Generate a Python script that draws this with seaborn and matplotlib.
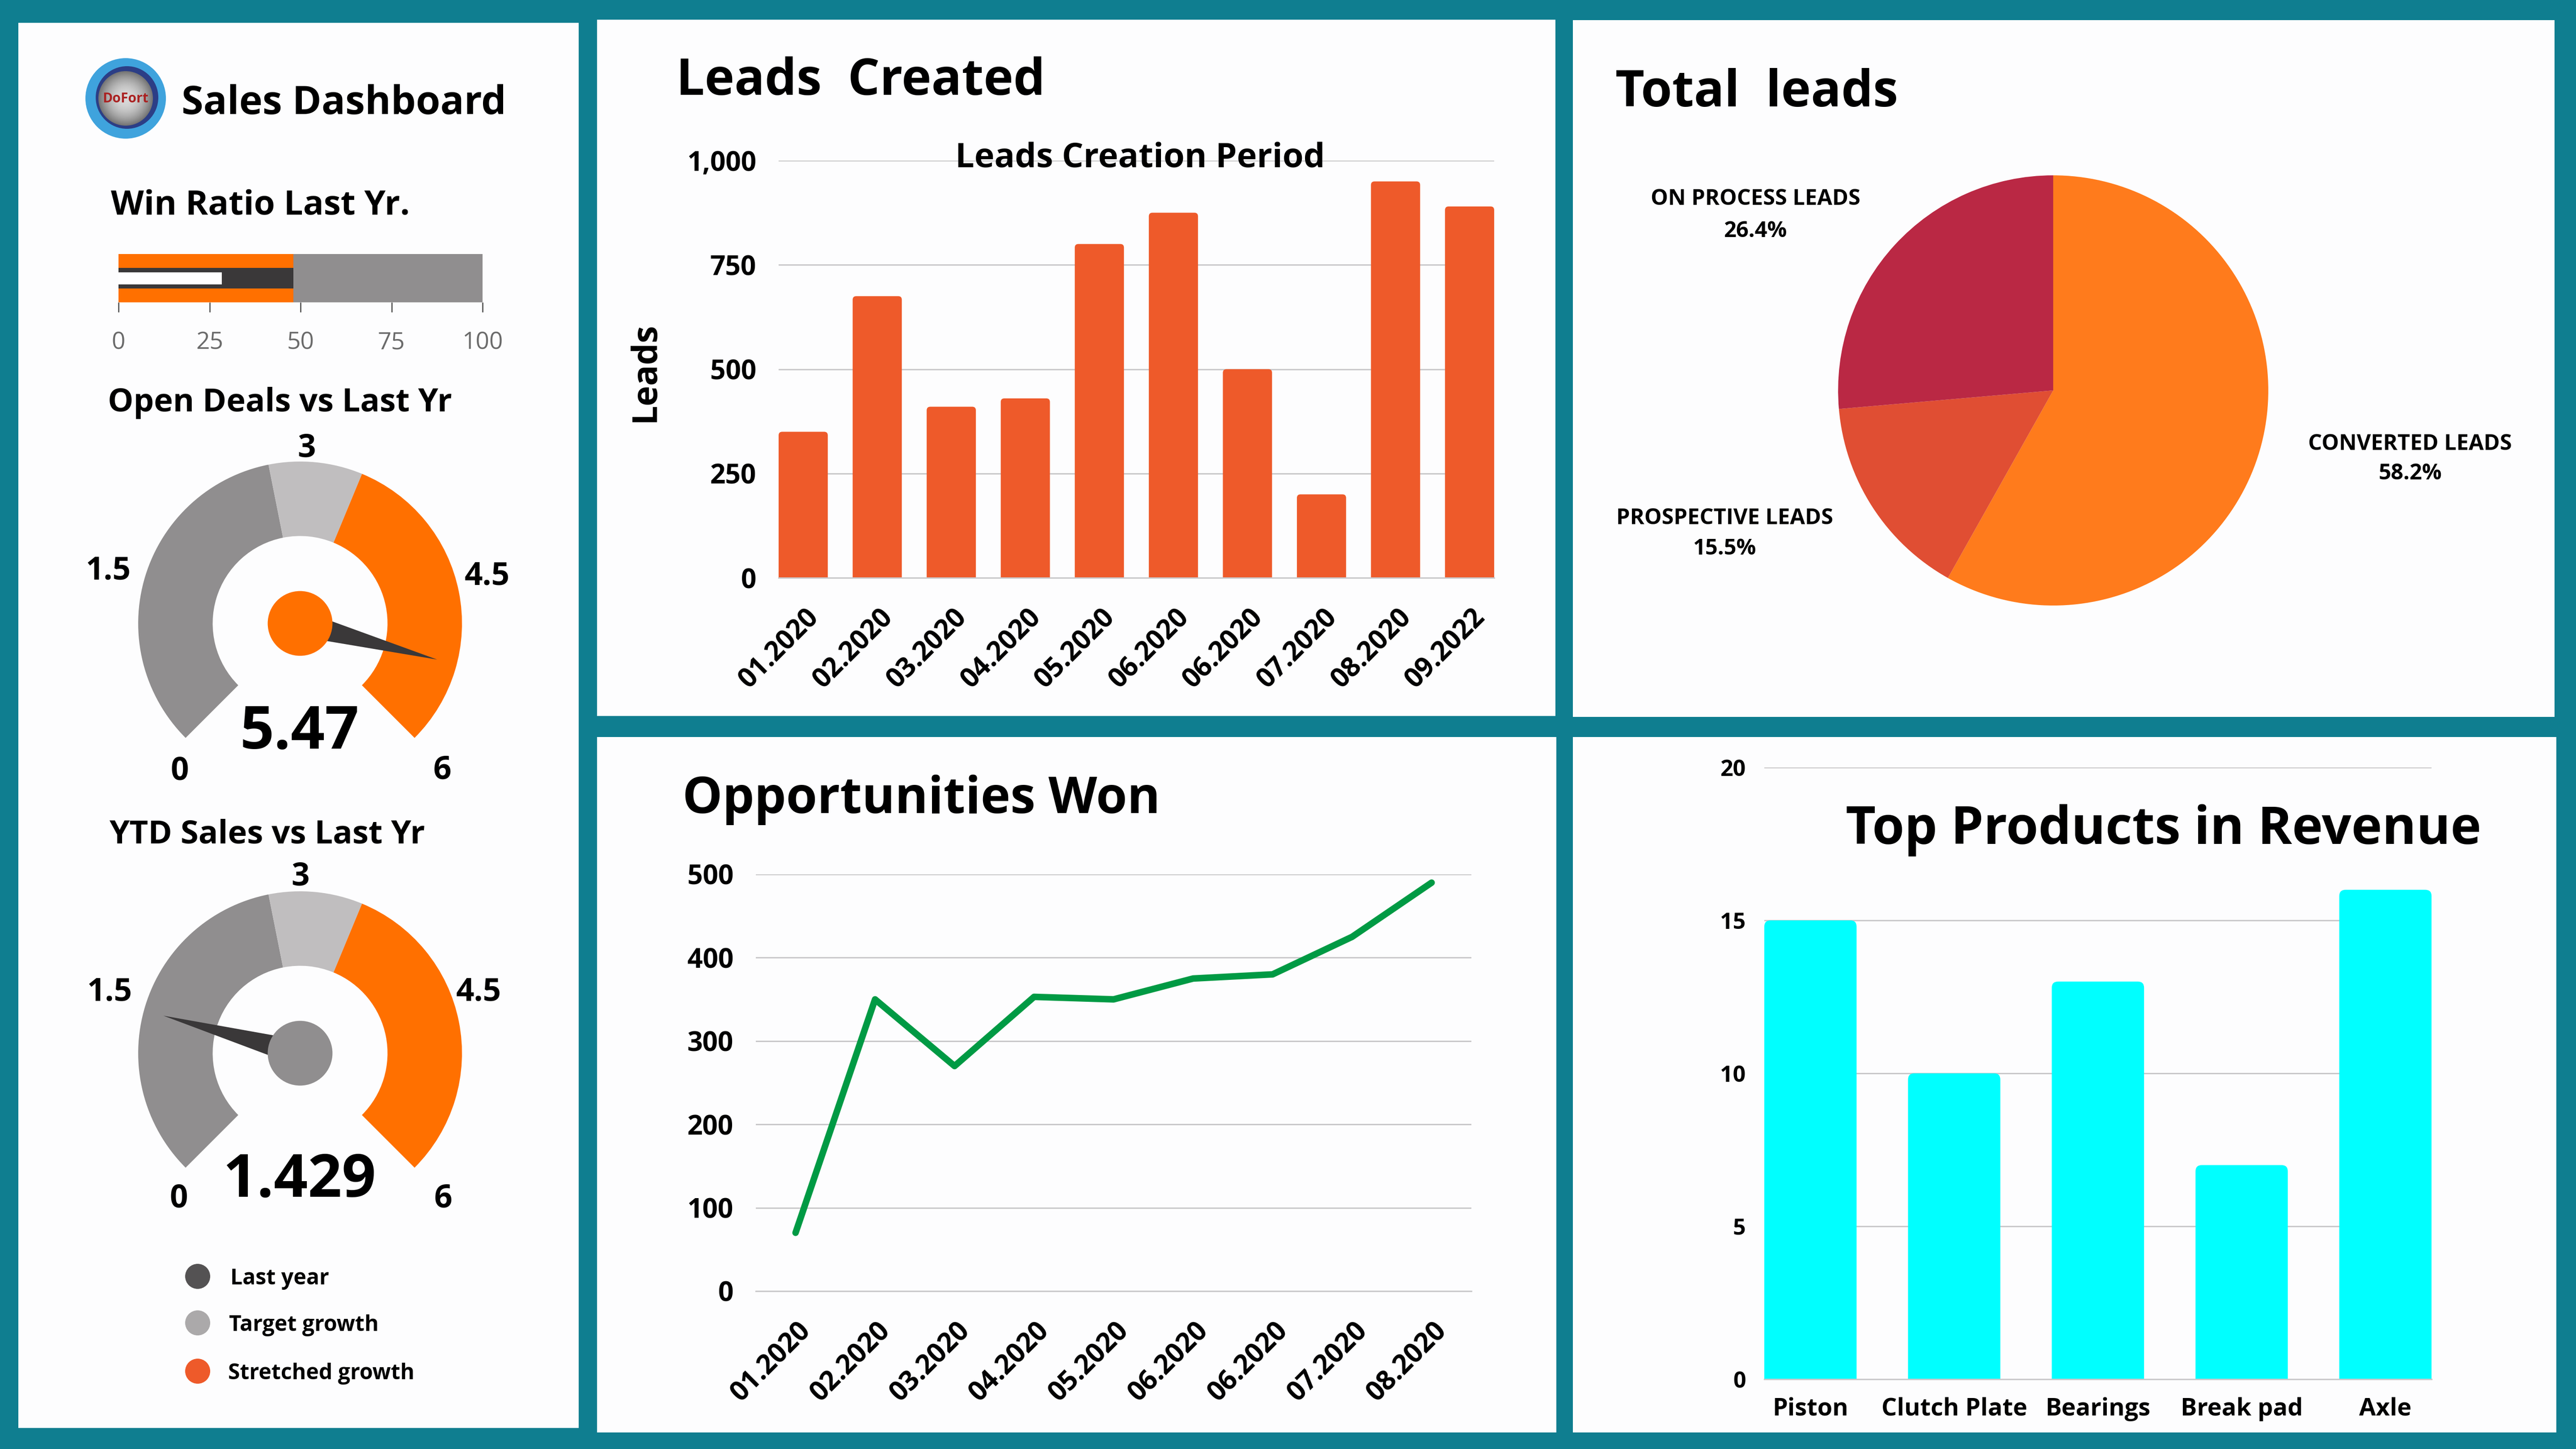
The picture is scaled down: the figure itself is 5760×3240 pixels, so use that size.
import numpy as np
import matplotlib
matplotlib.use("Agg")
import matplotlib.pyplot as plt
from matplotlib.patches import Circle, FancyBboxPatch, Rectangle
from matplotlib.transforms import ScaledTranslation
import seaborn as sns

W, H = 5760, 3240

# Data
lead_months = ["01.2020", "02.2020", "03.2020", "04.2020", "05.2020", "06.2020",
               "06.2020", "07.2020", "08.2020", "09.2022"]
lead_counts = [350, 675, 410, 430, 800, 875, 500, 200, 950, 890]
lead_ticks = [0, 250, 500, 750, 1000]
lead_tick_labels = ["0", "250", "500", "750", "1,000"]

won_months = ["01.2020", "02.2020", "03.2020", "04.2020", "05.2020", "06.2020",
              "06.2020", "07.2020", "08.2020"]
won_counts = [70, 350, 270, 353, 350, 375, 380, 425, 490]
won_ticks = [0, 100, 200, 300, 400, 500]

products = ["Piston", "Clutch Plate", "Bearings", "Break pad", "Axle"]
product_revenue = [15, 10, 13, 7, 16]
revenue_ticks = [0, 5, 10, 15, 20]

pie_names = ["CONVERTED LEADS", "PROSPECTIVE LEADS", "ON PROCESS LEADS"]
pie_shares = [58.2, 15.5, 26.4]

bullet_ticks = [0, 25, 50, 75, 100]
bullet_band = 48
bullet_inner = 28.4

gauge_segments = [2.75, 0.75, 2.5]
gauge_tick_labels = ["0", "1.5", "3", "4.5", "6"]
open_deals_value = 5.47
ytd_sales_value = 1.429

legend_names = ["Last year", "Target growth", "Stretched growth"]

TEAL = "#0F7E90"
PANEL = "#FDFDFE"
GRID = "#C9C8CA"
ORANGE_RED = "#EE5A2A"
GAUGE_ORANGE = "#FF7000"
GAUGE_GRAY = "#908E8F"
GAUGE_LIGHT = "#C0BEBF"
DARK = "#3A3839"

sns.set_theme(style="white")
plt.rcParams["font.family"] = ["Open Sans", "DejaVu Sans"]
plt.rcParams["axes.unicode_minus"] = False

fig = plt.figure(figsize=(W / 300, H / 300), dpi=300, facecolor=TEAL)


def px_axes(x0, y0, x1, y1, zorder=1):
    # axes placed by pixel box, y measured from the top
    ax = fig.add_axes([x0 / W, 1 - y1 / H, (x1 - x0) / W, (y1 - y0) / H], zorder=zorder)
    ax.set_facecolor("none")
    return ax


def style_chart(ax, yticks, ylabels, size=14.5, pad=12):
    ax.set_yticks(yticks, ylabels)
    ax.yaxis.grid(True, color=GRID, lw=0.75)
    ax.xaxis.grid(False)
    ax.set_axisbelow(True)
    for side in ["top", "left", "right"]:
        ax.spines[side].set_visible(False)
    ax.spines["bottom"].set_color(GRID)
    ax.spines["bottom"].set_linewidth(0.75)
    ax.tick_params(axis="y", length=0, pad=pad, labelsize=size, labelcolor="black")
    ax.tick_params(axis="x", length=0, labelcolor="black")
    for lab in ax.get_yticklabels():
        lab.set_fontweight("bold")
    ax.set_xlabel("")
    ax.set_ylabel("")


def slant_labels(ax, labels, pad, shift_pt):
    ax.set_xticks(range(len(labels)), labels, rotation=45, ha="right", va="center",
                  rotation_mode="anchor", fontsize=14.5, fontweight="bold")
    ax.tick_params(axis="x", pad=pad)
    offset = ScaledTranslation(shift_pt / 72, 0, fig.dpi_scale_trans)
    for lab in ax.get_xticklabels():
        lab.set_transform(lab.get_transform() + offset)


def round_bar_tops(ax, radius_px, px_per_x, px_per_y):
    # swap the square bars for ones with slightly rounded top corners
    radius = radius_px / px_per_x
    for bar in list(ax.patches):
        x, w, h = bar.get_x(), bar.get_width(), bar.get_height()
        col = bar.get_facecolor()
        bar.remove()
        ax.add_patch(FancyBboxPatch((x, -50), w, h + 50, boxstyle=f"round,pad=0,rounding_size={radius}",
                                    mutation_aspect=px_per_x / px_per_y, fc=col, ec="none", lw=0, zorder=2))


def draw_gauge(cx, cy, value, hub_color):
    r = 362
    pad = 1.05
    ax = px_axes(cx - r * pad, cy - r * pad, cx + r * pad, cy + r * pad, zorder=2)
    hidden = sum(gauge_segments) / 3
    ax.pie(gauge_segments + [hidden],
           colors=[GAUGE_GRAY, GAUGE_LIGHT, GAUGE_ORANGE, "none"],
           startangle=225, counterclock=False, radius=1,
           wedgeprops={"width": 0.46, "linewidth": 0})
    ax.set_xlim(-pad, pad)
    ax.set_ylim(-pad, pad)
    # needle, same scale as the dial with a slight offset as in the source
    angle = np.deg2rad(228.1 - 44.4 * value)
    tip = np.array([np.cos(angle), np.sin(angle)]) * 0.876
    side = np.array([-np.sin(angle), np.cos(angle)]) * 0.08
    ax.fill([side[0], tip[0], -side[0]], [side[1], tip[1], -side[1]], color=DARK, lw=0, zorder=5)
    ax.add_patch(Circle((0, 0), 0.2, color=hub_color, lw=0, zorder=6))


# Background panels
bg = px_axes(0, 0, W, H, zorder=0)
bg.set_xlim(0, W)
bg.set_ylim(H, 0)
bg.axis("off")
panels = [(41, 51, 1294, 3193), (1335, 44, 3478, 1601), (3517, 45, 5712, 1603),
          (1335, 1648, 3480, 3203), (3517, 1648, 5716, 3203)]
for x0, y0, x1, y1 in panels:
    bg.add_patch(Rectangle((x0, y0), x1 - x0, y1 - y0, color=PANEL, lw=0))

# Leads created
ax = px_axes(1741, 359, 3341, 1292)
bar_w = 0.664
sns.barplot(x=np.arange(len(lead_counts)), y=lead_counts, color=ORANGE_RED, saturation=1,
            width=bar_w, ax=ax)
ax.set_xlim(-bar_w / 2, len(lead_counts) - 1 + bar_w / 2)
ax.set_ylim(0, 1000)
round_bar_tops(ax, 8, 1600 / (len(lead_counts) - 1 + bar_w), 933 / 1000)
style_chart(ax, lead_ticks, lead_tick_labels)
slant_labels(ax, lead_months, 19, 6.2)

# Opportunities won
ax = px_axes(1690, 1955, 3290, 2887)
sns.lineplot(x=np.arange(len(won_counts)), y=won_counts, color="#009A44", lw=3.5,
             errorbar=None, ax=ax)
ax.set_xlim(-0.5, len(won_counts) - 0.5)
ax.set_ylim(0, 500)
style_chart(ax, won_ticks, [str(t) for t in won_ticks])
slant_labels(ax, won_months, 19, 6)

# Top products
ax = px_axes(3945, 1716, 5437, 3084)
bar_w = 0.642
sns.barplot(x=products, y=product_revenue, color="#00FFFF", saturation=1, width=bar_w, ax=ax)
ax.set_xlim(-bar_w / 2, len(products) - 1 + bar_w / 2)
ax.set_ylim(0, 20)
round_bar_tops(ax, 14, 1492 / (len(products) - 1 + bar_w), 1368 / 20)
style_chart(ax, revenue_ticks, [str(t) for t in revenue_ticks], size=12, pad=10)
ax.tick_params(axis="x", pad=9.5, labelsize=13)
for lab in ax.get_xticklabels():
    lab.set_fontweight("bold")

# Total leads pie
ax = px_axes(4591 - 505, 873 - 505, 4591 + 505, 873 + 505)
ax.pie(pie_shares, colors=["#FF7B1C", "#E04E33", "#BA2844"], startangle=90, counterclock=False,
       radius=1, wedgeprops={"linewidth": 0})
ax.set_xlim(-1.05, 1.05)
ax.set_ylim(-1.05, 1.05)

# Win ratio bullet
ax = px_axes(265, 568, 1079, 676)
ax.barh([0], [bullet_ticks[-1]], height=1, color=GAUGE_GRAY, edgecolor="none", lw=0)
ax.barh([0], [bullet_band], height=1, color=GAUGE_ORANGE, edgecolor="none", lw=0)
ax.barh([0], [bullet_band], height=0.42, color=DARK, edgecolor="none", lw=0)
ax.barh([0], [bullet_inner], height=0.25, color="white", edgecolor="none", lw=0)
ax.set_xlim(0, 100)
ax.set_ylim(-0.5, 0.5)
ax.set_yticks([])
ax.set_xticks(bullet_ticks, [str(t) for t in bullet_ticks])
ax.tick_params(axis="x", bottom=True, length=5.3, width=0.6, color="#444444", pad=10,
               labelsize=12.8, labelcolor="#6B6B6B")
sns.despine(ax=ax, left=True, bottom=True)

# Gauges
draw_gauge(671, 1394, open_deals_value, GAUGE_ORANGE)
draw_gauge(671, 2355, ytd_sales_value, GAUGE_GRAY)

# Text and small decorations, placed in pixels on a top layer
top = px_axes(0, 0, W, H, zorder=10)
top.set_xlim(0, W)
top.set_ylim(H, 0)
top.axis("off")


def label(x, y, s, size, weight="bold", ha="center", va="center", **kw):
    top.text(x, y, s, fontsize=size, fontweight=weight, ha=ha, va=va, color="black", **kw)


label(406, 255, "Sales Dashboard", 21.2, ha="left", va="baseline")
label(248, 480, "Win Ratio Last Yr.", 18.3, ha="left", va="baseline")
label(241, 920, "Open Deals vs Last Yr", 17.3, ha="left", va="baseline")
label(244, 1885, "YTD Sales vs Last Yr", 17.4, ha="left", va="baseline")

label(1512, 212, "Leads  Created", 27, ha="left", va="baseline")
label(3612, 238, "Total  leads", 27, ha="left", va="baseline")
label(1526, 1818, "Opportunities Won", 27, ha="left", va="baseline")
label(4127, 1887, "Top Products in Revenue", 27.9, ha="left", va="baseline")
label(2549, 354, "Leads Creation Period", 18.2)
label(1443, 833, "Leads", 18.5, rotation=90)

pie_label_pos = [(5389, 993, 1060), (3856, 1160, 1228), (3925, 446, 517)]
for name, share, (x, y1, y2) in zip(pie_names, pie_shares, pie_label_pos):
    label(x, y1, name, 11.7, weight="bold")
    label(x, y2, f"{share}%", 11.7, weight="bold")

gauge1_pos = [(402, 1725), (242, 1277), (686, 1002), (1089, 1289), (989, 1722)]
gauge2_pos = [(400, 2680), (245, 2218), (672, 1961), (1070, 2218), (991, 2680)]
for text, p1, p2 in zip(gauge_tick_labels, gauge1_pos, gauge2_pos):
    label(p1[0], p1[1], text, 17)
    label(p2[0], p2[1], text, 17)
label(670, 1640, f"{open_deals_value}", 32)
label(669, 2641, f"{ytd_sales_value}", 32)

legend_colors = ["#545253", "#ABA9AA", ORANGE_RED]
for name, col, y, tx in zip(legend_names, legend_colors, [2854, 2958, 3066], [515, 512, 510]):
    top.add_patch(Circle((442, y), 28, color=col, lw=0))
    label(tx, y + 6, name, 11.6, ha="left")

# Logo
top.add_patch(Circle((281, 220), 90, color="#3FA3DD", lw=0))
top.add_patch(Circle((284, 218), 70, color="#2C3E86", lw=0))
yy, xx = np.mgrid[-1:1:200j, -1:1:200j]
shade = top.imshow(np.clip(0.85 - 0.4 * (xx ** 2 + yy ** 2), 0, 1), cmap="gray", vmin=0, vmax=1,
                   extent=(220, 342, 281, 159), aspect="auto", zorder=3)
shade.set_clip_path(Circle((281, 220), 61, transform=top.transData))
top.set_xlim(0, W)
top.set_ylim(H, 0)
top.text(281, 221, "DoFort", fontsize=7.2, fontweight="bold", color="#AA2222", ha="center",
         va="center", zorder=4)

fig.savefig("out.png", dpi=300, facecolor=TEAL)
